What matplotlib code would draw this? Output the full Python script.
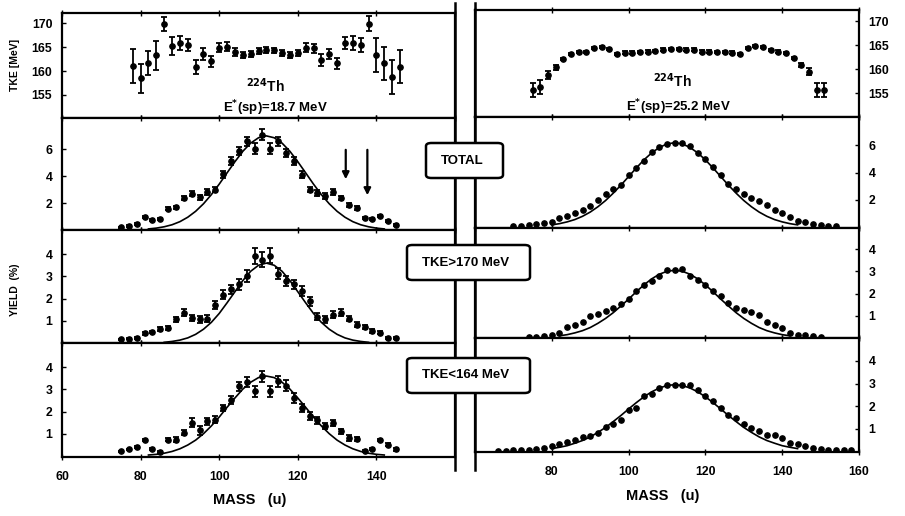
import matplotlib
matplotlib.use('Agg')
import matplotlib.pyplot as plt
from matplotlib.patches import FancyBboxPatch
from matplotlib.lines import Line2D

plt.rcParams['font.family'] = ['Liberation Sans', 'DejaVu Sans']
plt.rcParams['font.weight'] = 'bold'
plt.rcParams['mathtext.default'] = 'bf'

# ---------------- data ----------------
# left column, E*(sp)=18.7 MeV
left_tke_mass = list(range(78, 147, 2))
left_tke = [161.0, 158.5, 161.6, 163.3, 169.8, 165.2, 165.8, 165.4, 160.9, 163.5,
            162.0, 164.9, 165.1, 164.0, 163.3, 163.5, 164.2, 164.4, 164.3, 163.7,
            163.3, 163.8, 164.9, 164.7, 162.3, 163.5, 161.6, 165.8, 165.8, 165.4,
            169.9, 163.3, 161.6, 158.8, 160.9]
left_tke_err = [3.5, 3.0, 2.5, 3.0, 1.5, 1.8, 1.5, 1.2, 1.5, 1.2,
                1.2, 1.0, 1.0, 0.8, 0.6, 0.6, 0.6, 0.6, 0.6, 0.6,
                0.6, 0.6, 0.9, 1.0, 1.2, 1.0, 1.2, 1.2, 1.5, 1.5,
                1.5, 3.5, 3.5, 3.5, 3.5]

left_yield_mass = list(range(75, 146, 2))
left_total = [0.21, 0.29, 0.45, 0.94, 0.77, 0.83, 1.59, 1.69, 2.39, 2.70,
              2.44, 2.83, 3.01, 4.14, 5.13, 5.86, 6.60, 6.06, 7.10, 6.06,
              6.60, 5.74, 5.13, 4.12, 3.01, 2.76, 2.52, 2.84, 2.39, 1.85,
              1.64, 0.90, 0.83, 1.03, 0.66, 0.36]
left_total_err = [0.05, 0.05, 0.05, 0.08, 0.08, 0.08, 0.12, 0.12, 0.15, 0.2,
                  0.2, 0.2, 0.2, 0.25, 0.3, 0.3, 0.35, 0.4, 0.4, 0.4,
                  0.35, 0.3, 0.3, 0.25, 0.2, 0.2, 0.2, 0.2, 0.15, 0.15,
                  0.12, 0.08, 0.08, 0.08, 0.05, 0.05]
left_high = [0.16, 0.20, 0.23, 0.43, 0.49, 0.64, 0.68, 1.06, 1.36, 1.13,
             1.06, 1.09, 1.69, 2.18, 2.41, 2.64, 3.01, 3.91, 3.76, 3.94,
             3.13, 2.78, 2.64, 2.33, 1.88, 1.18, 1.06, 1.28, 1.36, 1.09,
             0.83, 0.73, 0.53, 0.46, 0.23, 0.23]
left_high_err = [0.03, 0.03, 0.03, 0.05, 0.05, 0.08, 0.1, 0.12, 0.15, 0.15,
                 0.15, 0.15, 0.18, 0.2, 0.22, 0.25, 0.28, 0.35, 0.35, 0.35,
                 0.25, 0.22, 0.22, 0.22, 0.2, 0.15, 0.15, 0.15, 0.15, 0.12,
                 0.12, 0.1, 0.08, 0.06, 0.04, 0.04]
left_low = [0.21, 0.29, 0.41, 0.71, 0.32, 0.17, 0.73, 0.73, 1.04, 1.49,
            1.16, 1.56, 1.64, 2.16, 2.54, 3.14, 3.32, 2.91, 3.59, 2.91,
            3.36, 3.17, 2.61, 2.16, 1.79, 1.61, 1.34, 1.49, 1.11, 0.81,
            0.77, 0.21, 0.32, 0.71, 0.51, 0.29]
left_low_err = [0.03, 0.03, 0.05, 0.05, 0.05, 0.05, 0.08, 0.1, 0.12, 0.2,
                0.2, 0.15, 0.15, 0.15, 0.18, 0.2, 0.22, 0.25, 0.25, 0.25,
                0.25, 0.25, 0.22, 0.2, 0.18, 0.15, 0.15, 0.15, 0.12, 0.12,
                0.1, 0.05, 0.05, 0.05, 0.05, 0.05]

left_total_fit_mass = list(range(82, 143, 2))
left_total_fit = [0.08, 0.14, 0.24, 0.39, 0.62, 0.95, 1.39, 1.95, 2.63, 3.41, 4.25,
                  5.08, 5.85, 6.46, 6.86, 7.00, 6.86, 6.46, 5.85, 5.08, 4.25,
                  3.41, 2.63, 1.95, 1.39, 0.95, 0.62, 0.39, 0.24, 0.14, 0.08]
left_high_fit_mass = list(range(86, 139, 2))
left_high_fit = [0.03, 0.07, 0.13, 0.23, 0.39, 0.62, 0.93, 1.33, 1.81, 2.31, 2.81,
                 3.23, 3.50, 3.60, 3.50, 3.23, 2.81, 2.31, 1.81, 1.33, 0.93,
                 0.62, 0.39, 0.23, 0.13, 0.07, 0.03]
left_low_fit_mass = list(range(82, 143, 2))
left_low_fit = [0.04, 0.07, 0.12, 0.20, 0.32, 0.49, 0.71, 1.00, 1.35, 1.75, 2.19,
                2.61, 3.01, 3.32, 3.53, 3.60, 3.53, 3.32, 3.01, 2.61, 2.19,
                1.75, 1.35, 1.00, 0.71, 0.49, 0.32, 0.20, 0.12, 0.07, 0.04]

arrow_mass = [132.2, 137.7]
arrow_top = [6.17, 6.17]
arrow_tip = [3.57, 2.38]

# right column, E*(sp)=25.2 MeV
right_tke_mass = list(range(75, 152, 2))
right_tke = [155.7, 156.3, 158.8, 160.4, 162.1, 163.2, 163.6, 163.6, 164.4, 164.6,
             164.2, 163.2, 163.5, 163.5, 163.6, 163.7, 163.8, 164.1, 164.2, 164.2,
             164.1, 164.1, 163.7, 163.7, 163.6, 163.6, 163.5, 163.2, 164.4, 164.9,
             164.6, 164.0, 163.7, 163.4, 162.4, 160.9, 159.5, 155.7, 155.6]
right_tke_err = [1.5, 1.5, 0.8, 0.5] + [0.25] * 31 + [0.5, 0.8, 1.5, 1.5]

right_total_mass = list(range(70, 155, 2))
right_total = [0.05, 0.10, 0.12, 0.22, 0.29, 0.37, 0.66, 0.83, 1.03, 1.27,
               1.52, 2.01, 2.43, 2.82, 3.11, 3.80, 4.34, 4.88, 5.49, 5.86,
               6.10, 6.18, 6.18, 5.93, 5.44, 5.00, 4.39, 3.80, 3.16, 2.82,
               2.43, 2.13, 1.89, 1.60, 1.27, 1.03, 0.71, 0.46, 0.37, 0.22,
               0.15, 0.10, 0.05]
right_high_mass = list(range(74, 151, 2))
right_high = [0.03, 0.05, 0.08, 0.12, 0.23, 0.48, 0.60, 0.72, 0.98, 1.08,
              1.23, 1.35, 1.53, 1.77, 2.10, 2.37, 2.58, 2.78, 3.08, 3.08,
              3.12, 2.78, 2.63, 2.37, 2.13, 1.88, 1.58, 1.35, 1.27, 1.17,
              1.02, 0.72, 0.60, 0.45, 0.23, 0.15, 0.12, 0.08, 0.05]
right_low_mass = list(range(66, 159, 2))
right_low = [0.02, 0.02, 0.03, 0.04, 0.06, 0.08, 0.12, 0.21, 0.31, 0.40,
             0.50, 0.61, 0.65, 0.80, 1.05, 1.20, 1.39, 1.84, 1.91, 2.43,
             2.53, 2.80, 2.95, 2.95, 2.95, 2.92, 2.73, 2.43, 2.21, 1.91,
             1.61, 1.47, 1.20, 1.02, 0.87, 0.73, 0.70, 0.58, 0.36, 0.31,
             0.21, 0.13, 0.10, 0.06, 0.05, 0.04, 0.04]

right_total_fit_mass = list(range(80, 145, 2))
right_total_fit = [0.16, 0.25, 0.38, 0.55, 0.79, 1.10, 1.49, 1.95, 2.49, 3.08, 3.71,
                   4.34, 4.94, 5.45, 5.85, 6.11, 6.20, 6.11, 5.85, 5.45, 4.94, 4.34,
                   3.71, 3.08, 2.49, 1.95, 1.49, 1.10, 0.79, 0.55, 0.38, 0.25, 0.16]
right_high_fit_mass = list(range(82, 143, 2))
right_high_fit = [0.10, 0.15, 0.23, 0.33, 0.47, 0.66, 0.88, 1.14, 1.44, 1.75, 2.08,
                  2.39, 2.66, 2.87, 3.00, 3.05, 3.00, 2.87, 2.66, 2.39, 2.08,
                  1.75, 1.44, 1.14, 0.88, 0.66, 0.47, 0.33, 0.23, 0.15, 0.10]
right_low_fit_mass = list(range(80, 145, 2))
right_low_fit = [0.11, 0.17, 0.24, 0.35, 0.47, 0.63, 0.83, 1.05, 1.31, 1.58, 1.87,
                 2.15, 2.41, 2.63, 2.80, 2.91, 2.95, 2.91, 2.80, 2.63, 2.41, 2.15,
                 1.87, 1.58, 1.31, 1.05, 0.83, 0.63, 0.47, 0.35, 0.24, 0.17, 0.11]

tke_ticks = [155, 160, 165, 170]
total_ticks = [2, 4, 6]
part_ticks = [1, 2, 3, 4]
left_xticks = [60, 80, 100, 120, 140]
right_xticks = [80, 100, 120, 140, 160]
box_labels = ['TOTAL', 'TKE>170 MeV', 'TKE<164 MeV']

# ---------------- figure ----------------
W, H = 905, 516
fig = plt.figure(figsize=(W / 100, H / 100), dpi=100)


def ax_at(x0, x1, ytop, ybot):
    return fig.add_axes([x0 / W, 1 - ybot / H, (x1 - x0) / W, (ybot - ytop) / H])


FS = 8.8


def style(ax, side, yticks, xticks, show_x):
    ax.set_xlim(60, 160)
    for s in ax.spines.values():
        s.set_linewidth(1.6)
    ax.set_yticks(yticks)
    ax.set_xticks(xticks if show_x else [60, 80, 100, 120, 140, 160])
    if side == 'right':
        ax.yaxis.tick_right()
    ax.tick_params(axis='y', direction='in', length=3, width=1, labelsize=FS, pad=7)
    ax.tick_params(axis='x', direction='inout', length=4, width=1, labelsize=FS, pad=8,
                   top=True)
    if not show_x:
        ax.tick_params(axis='x', labelbottom=False)
    for lab in ax.get_xticklabels() + ax.get_yticklabels():
        lab.set_fontweight('bold')


MS = 3.8
ebkw = dict(fmt='o', color='black', ms=MS, elinewidth=1.3, capsize=2.0, capthick=1.3)

# left column rows
L0, L1 = 62, 455
axL1 = ax_at(L0, L1, 13, 118)
axL2 = ax_at(L0, L1, 118, 230)
axL3 = ax_at(L0, L1, 230, 343)
axL4 = ax_at(L0, L1, 343, 457)

axL1.errorbar(left_tke_mass, left_tke, yerr=left_tke_err, **ebkw)
axL1.set_ylim(150.2, 172.1)
style(axL1, 'left', tke_ticks, left_xticks, False)

axL2.errorbar(left_yield_mass, left_total, yerr=left_total_err, **ebkw)
axL2.plot(left_total_fit_mass, left_total_fit, color='black', lw=1.2)
for xm, yt, yb in zip(arrow_mass, arrow_top, arrow_tip):
    axL2.annotate('', xy=(xm, yb), xytext=(xm, yt),
                  arrowprops=dict(arrowstyle='-|>', color='black', lw=1.6,
                                  mutation_scale=10))
axL2.set_ylim(0, 8.33)
style(axL2, 'left', total_ticks, left_xticks, False)

axL3.errorbar(left_yield_mass, left_high, yerr=left_high_err, **ebkw)
axL3.plot(left_high_fit_mass, left_high_fit, color='black', lw=1.2)
axL3.set_ylim(0, 5.09)
style(axL3, 'left', part_ticks, left_xticks, False)

axL4.errorbar(left_yield_mass, left_low, yerr=left_low_err, **ebkw)
axL4.plot(left_low_fit_mass, left_low_fit, color='black', lw=1.2)
axL4.set_ylim(-0.05, 5.09)
style(axL4, 'left', part_ticks, left_xticks, True)

# right column rows
R0, R1 = 475, 859
axR1 = ax_at(R0, R1, 10, 117)
axR2 = ax_at(R0, R1, 117, 228)
axR3 = ax_at(R0, R1, 228, 338)
axR4 = ax_at(R0, R1, 338, 452)

axR1.errorbar(right_tke_mass, right_tke, yerr=right_tke_err, **ebkw)
axR1.set_ylim(150.0, 172.4)
style(axR1, 'right', tke_ticks, right_xticks, False)

axR2.plot(right_total_mass, right_total, 'o', color='black', ms=MS)
axR2.plot(right_total_fit_mass, right_total_fit, color='black', lw=1.2)
axR2.set_ylim(-0.07, 8.09)
style(axR2, 'right', total_ticks, right_xticks, False)

axR3.plot(right_high_mass, right_high, 'o', color='black', ms=MS)
axR3.plot(right_high_fit_mass, right_high_fit, color='black', lw=1.2)
axR3.set_ylim(0, 4.95)
style(axR3, 'right', part_ticks, right_xticks, False)

axR4.plot(right_low_mass, right_low, 'o', color='black', ms=MS)
axR4.plot(right_low_fit_mass, right_low_fit, color='black', lw=1.2)
axR4.set_ylim(-0.04, 5.02)
style(axR4, 'right', part_ticks, right_xticks, True)

# nucleus and excitation-energy labels
fig.text(265 / W, 1 - 86 / H, r'$^{\mathbf{224}}$Th', fontsize=10, ha='center',
         va='center')
fig.text(275 / W, 1 - 118 / H, r'E$^{*}$(sp)=18.7 MeV', fontsize=9.5, ha='center',
         va='bottom')
fig.text(672 / W, 1 - 81 / H, r'$^{\mathbf{224}}$Th', fontsize=10, ha='center',
         va='center')
fig.text(678 / W, 1 - 117 / H, r'E$^{*}$(sp)=25.2 MeV', fontsize=9.5, ha='center',
         va='bottom')

# axis titles
fig.text(15 / W, 1 - 65 / H, 'TKE [MeV]', rotation=90, fontsize=7.5, ha='center',
         va='center')
fig.text(15 / W, 1 - 290 / H, 'YIELD  (%)', rotation=90, fontsize=7.5, ha='center',
         va='center')
fig.text(250 / W, 1 - 500 / H, 'MASS   (u)', fontsize=10.5, ha='center', va='center')
fig.text(663 / W, 1 - 496 / H, 'MASS   (u)', fontsize=10.5, ha='center', va='center')

# separator strip lines between the columns
for xs in (L1, R0):
    fig.add_artist(Line2D([xs / W, xs / W], [1 - 3 / H, 1 - 470 / H], color='black',
                          lw=1.8, zorder=4))

# boxes
boxes = [(426, 503, 143, 178), (407, 530, 245, 280), (407, 530, 358, 393)]
for (bx0, bx1, by0, by1), lab in zip(boxes, box_labels):
    p = FancyBboxPatch((bx0 / W, 1 - by1 / H), (bx1 - bx0) / W, (by1 - by0) / H,
                       boxstyle='round,pad=0,rounding_size=0.006',
                       transform=fig.transFigure, facecolor='white', edgecolor='black',
                       lw=1.8, zorder=6)
    fig.add_artist(p)
    fig.text((bx0 + bx1) / 2 / W - 0.003, 1 - (by0 + by1) / 2 / H, lab, fontsize=9.5,
             ha='center', va='center', zorder=7)

fig.savefig('out.png', dpi=100)
